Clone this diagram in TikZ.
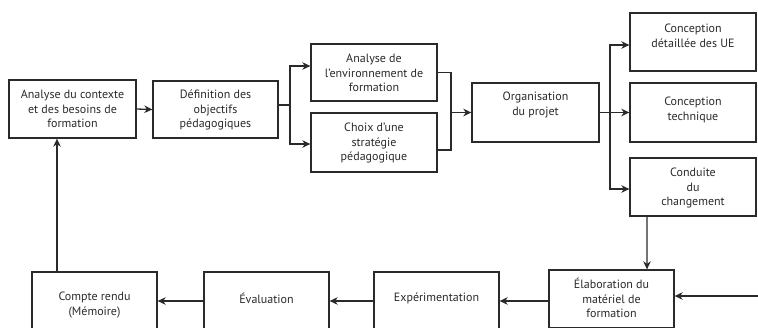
\documentclass[tikz,border=0pt]{standalone}
\usepackage{fontspec}
\setmainfont{PT Sans}
\usetikzlibrary{arrows.meta}
\definecolor{ink}{HTML}{2A2A2A}
\tikzset{
  box/.style={draw=ink, line width=1.3bp, inner sep=0pt, fill=none},
  lbl/.style={text=ink, align=center, font=\fontsize{12bp}{14.6bp}\selectfont, inner sep=0pt},
  ln/.style={draw=ink, line width=1.3bp},
  arr/.style={ln, -{Stealth[length=8bp,width=7.5bp,inset=2.5bp]}}
}
\begin{document}
\begin{tikzpicture}[x=1bp,y=-1bp]
\useasboundingbox (0,0) rectangle (758,327);
\clip (0,0) rectangle (758,327);
% boxes
\node[box, minimum width=127bp, minimum height=58bp] (b1) at (72.5,109) {};
\node[box, minimum width=125bp, minimum height=57bp] (b2) at (215.5,109.5) {};
\node[box, minimum width=126bp, minimum height=57bp] (b3) at (374,72.5) {};
\node[box, minimum width=126bp, minimum height=59bp] (b4) at (374,142.5) {};
\node[box, minimum width=127bp, minimum height=59bp] (b5) at (535.5,112.5) {};
\node[box, minimum width=126bp, minimum height=58bp] (b6) at (693,42) {};
\node[box, minimum width=126bp, minimum height=59bp] (b7) at (693,112.5) {};
\node[box, minimum width=126bp, minimum height=58bp] (b8) at (693,187) {};
\node[box, minimum width=125bp, minimum height=58bp] (b9) at (611.5,299) {};
\node[box, minimum width=125bp, minimum height=58bp] (b10) at (436.5,301) {};
\node[box, minimum width=125bp, minimum height=58bp] (b11) at (266.5,301) {};
\node[box, minimum width=125bp, minimum height=58bp] (b12) at (94.5,301) {};
% texts
\node[lbl] (t1) at (72.5,109) {Analyse du contexte\\et des besoins de\\formation};
\node[lbl] (t2) at (215.5,110) {Définition des\\objectifs\\pédagogiques};
\node[lbl] (t3) at (374,73) {Analyse de\\l'environnement de\\formation};
\node[lbl] (t4) at (374,143) {Choix d'une\\stratégie\\pédagogique};
\node[lbl] (t5) at (535.5,105) {Organisation\\du projet};
\node[lbl] (t6) at (693,36) {Conception\\détaillée des UE};
\node[lbl] (t7) at (693,110) {Conception\\technique};
\node[lbl] (t8) at (693,188) {Conduite\\du\\changement};
\node[lbl] (t9) at (611.5,298) {Élaboration du\\matériel de\\formation};
\node[lbl] (t10) at (436.5,298) {Expérimentation};
\node[lbl] (t11) at (266.5,298) {Évaluation};
\node[lbl] (t12) at (94.5,305) {Compte rendu\\(Mémoire)};
% connectors
\draw[arr] (b1.east) -- (b2.west);
\coordinate (j1) at (290,105);
\draw[ln] (b2.east |- j1) -- (j1);
\draw[arr] (j1) |- ([yshift=6.5bp]b3.west);
\draw[arr] (j1) |- ([yshift=-1.5bp]b4.west);
\coordinate (j2) at (451,112.5);
\draw[ln] (b3.east) -| (j2);
\draw[ln] ([yshift=-7.5bp]b4.east) -| (j2);
\draw[arr] (j2) -- (b5.west);
\coordinate (j3) at (610,112.5);
\draw[ln] (b5.east) -- (j3);
\draw[arr] (j3) |- ([yshift=-3bp]b6.west);
\draw[arr] (j3) -- (b7.west);
\draw[arr] (j3) |- ([yshift=-2bp]b8.west);
\draw[arr] ([xshift=-46bp]b8.south) -- ([xshift=35.5bp]b9.north);
\coordinate (rin) at (758,296);
\draw[arr] (rin) -- (b9.east |- rin);
\draw[arr] (b9.west |- b10.east) -- (b10.east);
\draw[arr] (b10.west) -- (b11.east);
\draw[arr] (b11.west) -- (b12.east);
\draw[arr] ([xshift=-37.5bp]b12.north) -- ([xshift=-37.5bp]b12.north |- b1.south);
\end{tikzpicture}
\end{document}
